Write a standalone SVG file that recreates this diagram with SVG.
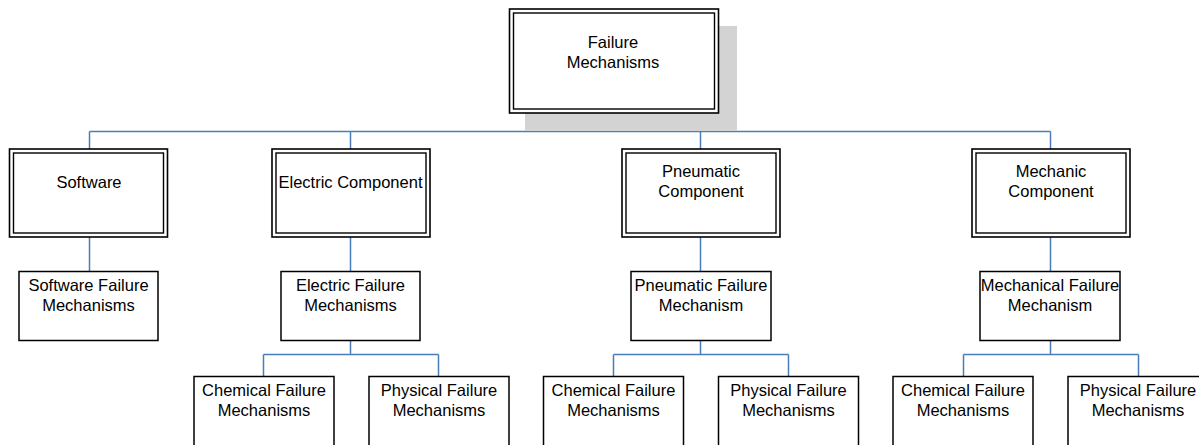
<svg xmlns="http://www.w3.org/2000/svg" width="1199" height="445" viewBox="0 0 1199 445">
<style>
.o{fill:#fff;stroke:#000;stroke-width:1.6}
.i{fill:none;stroke:#000;stroke-width:1.4}
.b{fill:#fff;stroke:#000;stroke-width:1.5}
.c{fill:none;stroke:#4a7ebb;stroke-width:1.5}
text{font-family:"Liberation Sans",Arial,sans-serif;font-size:16.5px;fill:#000;text-anchor:middle}
</style>
<rect width="1199" height="445" fill="#fff"/>
<g id="connectors">
<path class="c" d="M613.5 113V131.5M89.5 131.5H1050.5M89.5 131.5V149M350.5 131.5V149M700.5 131.5V149M1050.5 131.5V149"/>
<path class="c" d="M89.5 237V271M350.5 237V271M700.5 237V271M1050.5 237V271"/>
<path class="c" d="M350.5 341V354.5M263.5 354.5H438.5M263.5 354.5V376M438.5 354.5V376"/>
<path class="c" d="M700.5 341V354.5M613.5 354.5H788.5M613.5 354.5V376M788.5 354.5V376"/>
<path class="c" d="M1050.5 341V354.5M963.5 354.5H1138.5M963.5 354.5V376M1138.5 354.5V376"/>
</g>
<g id="root">
<rect x="525" y="26" width="212" height="105" fill="#d3d3d3"/>
<rect class="o" x="509.5" y="9" width="209" height="104"/>
<rect class="i" x="513.5" y="13" width="201" height="96"/>
<text x="613" y="48">Failure</text>
<text x="613" y="68">Mechanisms</text>
</g>
<g id="software">
<rect class="o" x="9.5" y="149" width="158" height="88"/>
<rect class="i" x="13.5" y="153" width="150" height="80"/>
<text x="89" y="188">Software</text>
</g>
<g id="electric">
<rect class="o" x="272" y="149" width="158" height="88"/>
<rect class="i" x="276" y="153" width="150" height="80"/>
<text x="350.5" y="188">Electric Component</text>
</g>
<g id="pneumatic">
<rect class="o" x="622" y="149" width="158" height="88"/>
<rect class="i" x="626" y="153" width="150" height="80"/>
<text x="701" y="177">Pneumatic</text>
<text x="701" y="197">Component</text>
</g>
<g id="mechanic">
<rect class="o" x="972" y="149" width="158" height="88"/>
<rect class="i" x="976" y="153" width="150" height="80"/>
<text x="1051" y="177">Mechanic</text>
<text x="1051" y="197">Component</text>
</g>
<g id="software-fm">
<rect class="b" x="19" y="271.5" width="139" height="69"/>
<text x="88.5" y="291">Software Failure</text>
<text x="88.5" y="311">Mechanisms</text>
</g>
<g id="electric-fm">
<rect class="b" x="281" y="271.5" width="139" height="69"/>
<text x="350.5" y="291">Electric Failure</text>
<text x="350.5" y="311">Mechanisms</text>
</g>
<g id="pneumatic-fm">
<rect class="b" x="631" y="271.5" width="140" height="69"/>
<text x="701" y="291">Pneumatic Failure</text>
<text x="701" y="311">Mechanism</text>
</g>
<g id="mechanical-fm">
<rect class="b" x="980" y="271.5" width="140" height="69"/>
<text x="1050" y="291">Mechanical Failure</text>
<text x="1050" y="311">Mechanism</text>
</g>
<g id="e-chem">
<rect class="b" x="194" y="376.5" width="140" height="80"/>
<text x="264" y="396">Chemical Failure</text>
<text x="264" y="416">Mechanisms</text>
</g>
<g id="e-phys">
<rect class="b" x="369" y="376.5" width="140" height="80"/>
<text x="439" y="396">Physical Failure</text>
<text x="439" y="416">Mechanisms</text>
</g>
<g id="p-chem">
<rect class="b" x="543.5" y="376.5" width="140" height="80"/>
<text x="613.5" y="396">Chemical Failure</text>
<text x="613.5" y="416">Mechanisms</text>
</g>
<g id="p-phys">
<rect class="b" x="718.5" y="376.5" width="140" height="80"/>
<text x="788.5" y="396">Physical Failure</text>
<text x="788.5" y="416">Mechanisms</text>
</g>
<g id="m-chem">
<rect class="b" x="893" y="376.5" width="140" height="80"/>
<text x="963" y="396">Chemical Failure</text>
<text x="963" y="416">Mechanisms</text>
</g>
<g id="m-phys">
<rect class="b" x="1068" y="376.5" width="140" height="80"/>
<text x="1138" y="396">Physical Failure</text>
<text x="1138" y="416">Mechanisms</text>
</g>
</svg>
